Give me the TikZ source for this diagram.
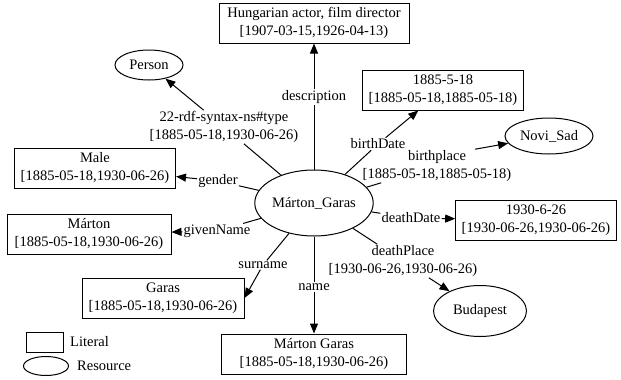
\documentclass[tikz,border=0pt]{standalone}
\usepackage{fontspec}
\setmainfont{Liberation Serif}
\usetikzlibrary{shapes.geometric, arrows.meta, calc}
\tikzset{
    x=1pt,
    y=-1pt,
    literal/.style={draw, rectangle, align=center, line width=1pt, inner xsep=6pt, inner ysep=2pt, minimum height=40pt},
    resource/.style={draw, ellipse, line width=1pt, inner sep=0pt},
    prop/.style={align=center, inner sep=1pt},
    link/.style={line width=1pt, -{Triangle[length=10pt, width=8pt]}},
}

\begin{document}
\begin{tikzpicture}[font=\fontsize{14.5}{18}\selectfont]
    \useasboundingbox (0,0) rectangle (621,380);

        \node[resource, minimum width=112, minimum height=66] (marton) at (314,203) {Márton\_Garas};
        \node[literal, minimum width=190] (desc) at (314,23) {Hungarian actor, film director\\{}[1907-03-15,1926-04-13)};
        \node[resource, minimum width=68, minimum height=30] (person) at (149,65) {Person};
        \node[literal, minimum width=161] (male) at (95,168) {Male\\{}[1885-05-18,1930-06-26)};
        \node[literal, minimum width=164] (given) at (89,234) {Márton\\{}[1885-05-18,1930-06-26)};
        \node[literal, minimum width=162] (sur) at (163,298) {Garas\\{}[1885-05-18,1930-06-26)};
        \node[literal, minimum width=185] (full) at (314,354) {Márton Garas\\{}[1885-05-18,1930-06-26)};
        \node[literal, minimum width=156] (bdate) at (443,90) {1885-5-18\\{}[1885-05-18,1885-05-18)};
        \node[resource, minimum width=88, minimum height=36] (bplace) at (549,136) {Novi\_Sad};
        \node[literal, minimum width=160] (ddate) at (536,220) {1930-6-26\\{}[1930-06-26,1930-06-26)};
        \node[resource, minimum width=93, minimum height=51] (dplace) at (480,311) {Budapest};

        \node[prop] (ldesc) at (314,97) {description};
        \node[prop] (ltype) at (224,127) {22-rdf-syntax-ns\#type\\{}[1885-05-18,1930-06-26)};
        \node[prop] (lgender) at (218,181) {gender};
        \node[prop] (lgiven) at (217,231) {givenName};
        \node[prop] (lsur) at (263,265) {surname};
        \node[prop] (lname) at (314,287) {name};
        \node[prop] (lbdate) at (378,144) {birthDate};
        \node[prop] (lbplace) at (437,166) {birthplace\\{}[1885-05-18,1885-05-18)};
        \node[prop] (lddate) at (411,218) {deathDate};
        \node[prop] (ldplace) at (403,261) {deathPlace\\{}[1930-06-26,1930-06-26)};

        \node[literal, minimum width=37, minimum height=20] (litkey) at (45,342) {};
        \node[anchor=west, inner sep=0pt] (littext) at (70,342) {Literal};
        \node[resource, minimum width=45, minimum height=19] (reskey) at (46,366) {};
        \node[anchor=west, inner sep=0pt] (restext) at (77,366) {Resource};

    \path[link]
        (marton) edge[-] (ldesc)
        (ldesc) edge (desc)
        (marton) edge[-] (ltype)
        (ltype) edge (person)
        (marton) edge[-] (lgender)
        (lgender) edge (male)
        (marton) edge[-] (lgiven)
        (lgiven) edge (given)
        (marton) edge[-] (lsur)
        (lsur) edge (sur.east)
        (marton) edge[-] (lname)
        (lname) edge (full)
        (marton) edge[-] (lbdate)
        (lbdate) edge (bdate)
        (marton) edge[-] (lbplace)
        ($(lbplace.north)+(38,0)$) edge (bplace)
        (marton) edge[-] (lddate)
        (lddate) edge (ddate)
        (marton) edge[-] (ldplace)
        (ldplace) edge (dplace);
\end{tikzpicture}
\end{document}
